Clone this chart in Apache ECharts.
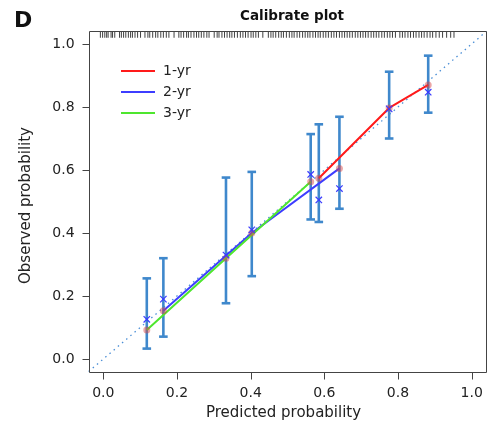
<!DOCTYPE html>
<html><head><meta charset="utf-8">
<script src="https://cdn.jsdelivr.net/npm/echarts@6/dist/echarts.min.js"></script>
<style>html,body{margin:0;padding:0;background:#fff}#c{width:494px;height:432px}</style>
</head><body><div id="c"></div>
<script>
const tickValues = [0, 0.2, 0.4, 0.6, 0.8, 1.0];
const seriesNames = ['1-yr', '2-yr', '3-yr'];
const yr1Pred = [0.585, 0.776, 0.882];
const yr1Obs = [0.574, 0.797, 0.870];
const yr1Lower = [0.435, 0.700, 0.782];
const yr1Upper = [0.745, 0.912, 0.963];
const yr1Corrected = [0.505, 0.794, 0.847];
const yr2Pred = [0.163, 0.403, 0.641];
const yr2Obs = [0.153, 0.400, 0.605];
const yr2Lower = [0.071, 0.263, 0.477];
const yr2Upper = [0.320, 0.594, 0.769];
const yr2Corrected = [0.190, 0.410, 0.541];
const yr3Pred = [0.118, 0.333, 0.563];
const yr3Obs = [0.092, 0.320, 0.563];
const yr3Lower = [0.033, 0.177, 0.443];
const yr3Upper = [0.256, 0.576, 0.714];
const yr3Corrected = [0.126, 0.330, 0.586];
const rugValues = [-0.008,-0.002,0.004,0.009,0.013,0.021,0.025,0.031,0.044,0.049,0.055,0.061,0.068,0.074,0.079,0.086,0.093,0.101,0.113,0.121,0.126,0.134,0.142,0.148,0.156,0.163,0.171,0.178,0.192,0.205,0.211,0.218,0.226,0.231,0.238,0.246,0.253,0.259,0.266,0.273,0.281,0.287,0.301,0.309,0.314,0.322,0.329,0.336,0.343,0.349,0.356,0.364,0.372,0.379,0.386,0.393,0.401,0.407,0.414,0.421,0.433,0.448,0.455,0.461,0.468,0.476,0.483,0.489,0.497,0.505,0.512,0.518,0.526,0.533,0.541,0.548,0.555,0.561,0.569,0.576,0.583,0.589,0.597,0.604,0.611,0.619,0.626,0.633,0.641,0.648,0.655,0.662,0.669,0.676,0.684,0.691,0.698,0.705,0.712,0.719,0.727,0.734,0.741,0.748,0.756,0.763,0.771,0.778,0.785,0.793,0.805,0.812,0.819,0.827,0.834,0.842,0.849,0.857,0.864,0.871,0.879,0.887,0.894,0.903,0.912,0.921,0.932,0.943,0.952];

// plot box range (R-style 4% padding) and outer range leaving room for outward ticks
const BOX_MIN = -0.04, BOX_MAX = 1.04;
const X_OUTER_MIN = -0.0617, Y_OUTER_MIN = -0.0654;
const TICK_LEN = 7;

const groups = [
  {name: seriesNames[0], color: '#ff1a1a', pred: yr1Pred, obs: yr1Obs, lo: yr1Lower, hi: yr1Upper, bc: yr1Corrected},
  {name: seriesNames[1], color: '#3d3dff', pred: yr2Pred, obs: yr2Obs, lo: yr2Lower, hi: yr2Upper, bc: yr2Corrected},
  {name: seriesNames[2], color: '#4ee62e', pred: yr3Pred, obs: yr3Obs, lo: yr3Lower, hi: yr3Upper, bc: yr3Corrected}
];

const errData = [], xData = [], ptData = [];
groups.forEach(g => g.pred.forEach((p, i) => {
  errData.push([p, g.lo[i], g.hi[i]]);
  xData.push([p, g.bc[i]]);
  ptData.push([p, g.obs[i]]);
}));

const txt = '#222';
const font = 'DejaVu Sans';
const series = [];
// plot frame with outward ticks, all placed through the axes' scales
series.push({
  type: 'custom', z: 6, silent: true, clip: false,
  data: [[BOX_MIN, BOX_MIN]],
  renderItem: function (params, api) {
    const a = api.coord([BOX_MIN, BOX_MIN]);
    const b = api.coord([BOX_MAX, BOX_MAX]);
    const x0 = Math.round(a[0]) + 0.5, y0 = Math.round(a[1]) + 0.5;
    const x1 = Math.round(b[0]) + 0.5, y1 = Math.round(b[1]) + 0.5;
    const kids = [{type: 'rect', shape: {x: x0, y: y1, width: x1 - x0, height: y0 - y1},
                   style: {stroke: '#444', lineWidth: 1, fill: null}}];
    tickValues.forEach(v => {
      const tx = Math.round(api.coord([v, BOX_MIN])[0]);
      const ty = Math.round(api.coord([BOX_MIN, v])[1]);
      kids.push({type: 'rect', shape: {x: tx, y: y0, width: 1, height: TICK_LEN},
                 style: {fill: '#444', stroke: null}});
      kids.push({type: 'rect', shape: {x: x0 - TICK_LEN, y: ty, width: TICK_LEN, height: 1},
                 style: {fill: '#444', stroke: null}});
    });
    return {type: 'group', children: kids};
  }
});
series.push({
  type: 'line', silent: true, symbol: 'none', z: 1,
  data: [[BOX_MIN, BOX_MIN], [BOX_MAX, BOX_MAX]],
  lineStyle: {color: '#4a8ed6', width: 1.3, type: [1.5, 4]}
});
series.push({
  type: 'custom', z: 2, silent: true,
  data: errData,
  renderItem: function (params, api) {
    const x = api.value(0);
    const a = api.coord([x, api.value(1)]);
    const b = api.coord([x, api.value(2)]);
    const c = 4.3;
    const st = {stroke: '#3f88cc', lineWidth: 2.6};
    return {type: 'group', children: [
      {type: 'line', shape: {x1: a[0], y1: a[1], x2: b[0], y2: b[1]}, style: st},
      {type: 'line', shape: {x1: a[0] - c, y1: a[1], x2: a[0] + c, y2: a[1]}, style: st},
      {type: 'line', shape: {x1: b[0] - c, y1: b[1], x2: b[0] + c, y2: b[1]}, style: st}
    ]};
  }
});
groups.forEach(g => series.push({
  name: g.name, type: 'line', symbol: 'none', z: 3,
  data: g.pred.map((p, i) => [p, g.obs[i]]),
  lineStyle: {color: g.color, width: 2},
  itemStyle: {color: g.color}
}));
series.push({
  type: 'scatter', z: 4, silent: true, symbol: 'circle', symbolSize: 7,
  data: ptData,
  itemStyle: {color: 'rgba(215,70,70,0.6)'}
});
series.push({
  type: 'custom', z: 5, silent: true,
  data: xData,
  renderItem: function (params, api) {
    const p = api.coord([api.value(0), api.value(1)]);
    const s = 3.2;
    const st = {stroke: '#3a3aff', lineWidth: 1.2};
    return {type: 'group', children: [
      {type: 'line', shape: {x1: p[0] - s, y1: p[1] - s, x2: p[0] + s, y2: p[1] + s}, style: st},
      {type: 'line', shape: {x1: p[0] - s, y1: p[1] + s, x2: p[0] + s, y2: p[1] - s}, style: st}
    ]};
  }
});
series.push({
  type: 'scatter', z: 2, silent: true, symbol: 'rect', symbolSize: [1, 6],
  data: rugValues.map(v => [v, 1.029]),
  itemStyle: {color: '#111'}
});

const chart = echarts.init(document.getElementById('c'), null, {renderer: 'canvas'});
chart.setOption({
  animation: false,
  backgroundColor: '#fff',
  title: [
    {text: 'Calibrate plot', left: 287, top: 4, textAlign: 'center',
     textStyle: {fontFamily: font, fontWeight: 'bold', fontSize: 13.5, color: '#111'}},
    {text: 'D', left: 9, top: 5,
     textStyle: {fontFamily: font, fontWeight: 'bold', fontSize: 22, color: '#111'}}
  ],
  legend: {
    orient: 'vertical', left: 116, top: 59, itemWidth: 34, itemHeight: 2, itemGap: 7,
    icon: 'rect', data: seriesNames,
    textStyle: {fontFamily: font, fontSize: 14, color: txt, padding: [0, 0, 0, 3]}
  },
  grid: {left: 80.6, right: 7.6, top: 31.4, bottom: 52.4, show: false},
  xAxis: {
    type: 'value', min: X_OUTER_MIN, max: BOX_MAX,
    name: 'Predicted probability', nameLocation: 'middle', nameGap: 22,
    nameTextStyle: {fontFamily: font, fontSize: 15, color: txt},
    axisLine: {show: false, onZero: false},
    splitLine: {show: false},
    axisTick: {show: false},
    axisLabel: {fontFamily: font, fontSize: 14, color: txt, margin: 7, customValues: tickValues,
      formatter: v => v.toFixed(1)}
  },
  yAxis: {
    type: 'value', min: Y_OUTER_MIN, max: BOX_MAX,
    name: 'Observed probability', nameLocation: 'middle', nameGap: 47, nameRotate: 90,
    nameTextStyle: {fontFamily: font, fontSize: 15, color: txt},
    axisLine: {show: false, onZero: false},
    splitLine: {show: false},
    axisTick: {show: false},
    axisLabel: {fontFamily: font, fontSize: 14, color: txt, margin: 6, customValues: tickValues,
      formatter: v => v.toFixed(1)}
  },
  series: series
});
</script></body></html>
